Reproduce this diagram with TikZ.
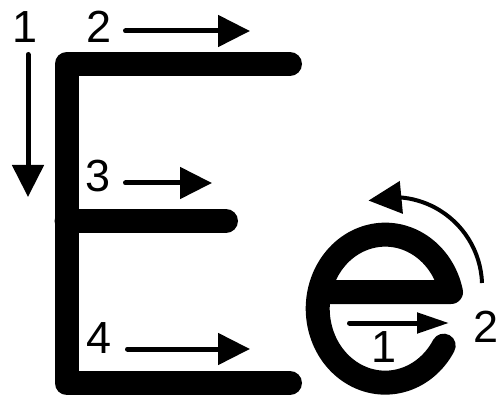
\documentclass[tikz,border=0pt]{standalone}
\usepackage{fontspec}
\setmainfont{Liberation Sans}
\usetikzlibrary{arrows.meta,bending}
\begin{document}
\begin{tikzpicture}[x=1pt,y=-1pt,
  letter/.style={line width=24pt, line cap=round, line join=round},
  num/.style={font=\fontsize{45}{45}\selectfont, inner sep=0pt, anchor=base},
  arr/.style={line width=5pt, line cap=round, -{Triangle[length=32pt,width=31pt]}},
  arrsmall/.style={line width=5pt, line cap=round, -{Triangle[length=32pt,width=20pt]}},
  arrcurve/.style={line width=4pt, -{Triangle[length=33pt,width=32pt]}}]
\useasboundingbox (0,0) rectangle (499,396);
% letter E
\draw[letter] (290,64) -- (66.5,64) -- (66.5,383) -- (290,383);
\draw[letter] (66.5,221) -- (226,221);
% letter e
\draw[letter] (320,292) -- (451,292) arc[start angle=-13, end angle=-330, x radius=67.5, y radius=74];
% stroke order arrows
\coordinate (a1s) at (28,54.5);   \coordinate (a1e) at (28,197);
\coordinate (a2s) at (125.5,31);  \coordinate (a2e) at (250,31);
\coordinate (a3s) at (125.5,183); \coordinate (a3e) at (212,183);
\coordinate (a4s) at (127.5,349); \coordinate (a4e) at (250,349);
\coordinate (b1s) at (349.5,323); \coordinate (b1e) at (449,323);
\coordinate (b2s) at (482,283);
\draw[arr] (a1s) -- (a1e);
\draw[arr] (a2s) -- (a2e);
\draw[arr] (a3s) -- (a3e);
\draw[arr] (a4s) -- (a4e);
\draw[arrsmall] (b1s) -- (b1e);
\draw[arrcurve] (b2s) arc[start angle=-2, end angle=-106, radius=89];
% labels
\node[num] (n1) at (24.7,43) {1};
\node[num] (n2) at (99,43) {2};
\node[num] (n3) at (98.5,192) {3};
\node[num] (n4) at (99,353) {4};
\node[num] (m1) at (383.7,362) {1};
\node[num] (m2) at (486,342) {2};
\end{tikzpicture}
\end{document}
